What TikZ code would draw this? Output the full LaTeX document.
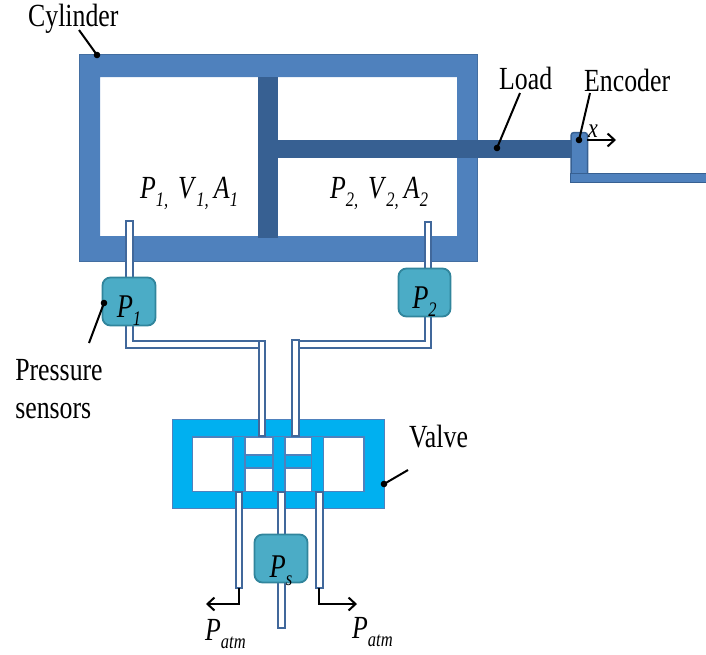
\documentclass[tikz,border=0pt]{standalone}
\usepackage{fontspec}
\setmainfont{Liberation Serif}
\usetikzlibrary{arrows.meta}
\definecolor{cylblue}{HTML}{4F81BD}
\definecolor{rodblue}{HTML}{376092}
\definecolor{tubeblue}{HTML}{41689B}
\definecolor{valveblue}{HTML}{00B0F0}
\definecolor{sensorfill}{HTML}{4BACC6}
\definecolor{sensorline}{HTML}{31859C}
\newcommand{\tall}[1]{\scalebox{1}[1.25]{#1}}
\newcommand{\lbl}[2]{\tall{\textit{#1}\raisebox{-6.4pt}{\fontsize{16.5}{17}\selectfont\textit{#2}}}}
\tikzset{
  txt/.style={inner sep=0pt,anchor=base west,font=\fontsize{25.8}{30}\selectfont},
  tube/.style={draw=tubeblue,fill=white,line width=2pt},
  valvepart/.style={draw=cylblue,fill=valveblue,line width=1.8pt},
  sensor/.style={draw=sensorline,fill=sensorfill,line width=1.8pt,rounded corners=8pt,
    minimum width=#1,minimum height=48pt,inner sep=0pt,font=\fontsize{26.5}{30}\selectfont},
  leader/.style={line width=2pt,black},
  flow/.style={line width=2pt,black,-{Straight Barb[length=7pt,width=13pt]}}
}
\begin{document}
\begin{tikzpicture}[x=1pt,y=-1pt]
    \useasboundingbox (0,0) rectangle (706,654);

    % Cylinder
    \fill[cylblue,even odd rule] (79,54) rectangle (477,261) (100,77) rectangle (457,236);
    \draw[cylblue!85!black,line width=1pt] (79,54) rectangle (477,261);

    % Piston and rod
    \fill[rodblue] (258,77) rectangle (278,238);
    \fill[rodblue] (278,140) rectangle (571,158);

    % Encoder and rail
    \draw[draw=rodblue,fill=cylblue,line width=1.5pt,rounded corners=3pt] (571,173) -- (571,132.5) -- (587.5,132.5) -- (587.5,173);
    \draw[draw=rodblue,fill=cylblue,line width=1.8pt] (570.5,173.5) rectangle (708,182.5);

    % Tubes to the sensors
    \draw[tube] (126,221) -- (132.5,221) -- (132.5,341) -- (264,341) -- (264,348) -- (126,348) -- cycle;
    \draw[tube] (424.5,221.5) -- (431,221.5) -- (431,348) -- (298,348) -- (298,341) -- (424.5,341) -- cycle;

    % Valve body
    \draw[valvepart] (172.5,419.5) rectangle (384.5,508.5);
    \draw[valvepart,fill=white] (192.5,437) rectangle (364,491.5);
    \foreach \x in {233,273,311.5} {
      \draw[valvepart] (\x,436.5) rectangle (\x+12,491.5);
    }
    \draw[valvepart] (245,455) rectangle (273,468);
    \draw[valvepart] (285,455) rectangle (311.5,468);

    % Tubes to the valve
    \draw[tube] (258.5,341) rectangle (264.5,436);
    \draw[tube] (292,340) rectangle (298.5,436);
    \draw[tube] (236,492) rectangle (241.5,587.5);
    \draw[tube] (278,492) rectangle (284.5,627.5);
    \draw[tube] (316,492) rectangle (322.5,587.5);

    % Sensors
    \node[sensor=53pt] (sensorone) at (129,301.5) {\smash{\raisebox{-15.5pt}{\lbl{P}{1}}}};
    \node[sensor=52pt] (sensortwo) at (424.5,292.5) {\smash{\raisebox{-15.5pt}{\lbl{P}{2}}}};
    \node[sensor=53pt] (sensorsupply) at (281,558.5) {\smash{\raisebox{-18.5pt}{\lbl{P}{s}}}};

    % Chamber labels
    \node[txt] (chamberone) at (140,198) {\lbl{P}{1,}\hspace{0.38em}\lbl{V}{1,}\hspace{0.2em}\lbl{A}{1}};
    \node[txt] (chambertwo) at (330,198) {\lbl{P}{2,}\hspace{0.38em}\lbl{V}{2,}\hspace{0.2em}\lbl{A}{2}};

    % Names
    \node[txt] (cylinder) at (28,26) {\tall{Cylinder}};
    \node[txt] (load) at (499,89) {\tall{Load}};
    \node[txt] (encoder) at (584,91) {\tall{Encoder}};
    \node[txt,anchor=center,align=left] (pressure) at (59,389) {\tall{Pressure}\\[8pt]\tall{sensors}};
    \node[txt] (valve) at (409,447) {\tall{Valve}};

    % Leader lines
    \coordinate (cylinderend) at (97,55);
    \coordinate (loadend) at (497,148);
    \coordinate (encoderend) at (579,140);
    \coordinate (sensorend) at (104,303);
    \coordinate (valveend) at (384,484);
    \draw[leader] (79,30) -- (cylinderend);
    \draw[leader] (520,93) -- (loadend);
    \draw[leader] (590,93) -- (encoderend);
    \draw[leader] (89,343) -- (sensorend);
    \draw[leader] (408,470) -- (valveend);
    \foreach \p in {cylinderend,loadend,encoderend,sensorend,valveend} {
      \fill[black] (\p) circle (3.3pt);
    }

    % Motion
    \coordinate (motionstart) at (587,140);
    \coordinate (motionend) at (616,140);
    \draw[flow] (motionstart) -- (motionend);
    \node[txt,font=\fontsize{22}{26}\selectfont] (motion) at (588,137) {\tall{\textit{x}}};

    % Exhaust
    \coordinate (leftout) at (239,588);
    \coordinate (leftend) at (206,604);
    \coordinate (rightout) at (319,588);
    \coordinate (rightend) at (357,604);
    \draw[flow] (leftout) |- (leftend);
    \draw[flow] (rightout) |- (rightend);
    \node[txt] (atmleft) at (205,640) {\lbl{P}{atm}};
    \node[txt] (atmright) at (352,638) {\lbl{P}{atm}};
\end{tikzpicture}
\end{document}
